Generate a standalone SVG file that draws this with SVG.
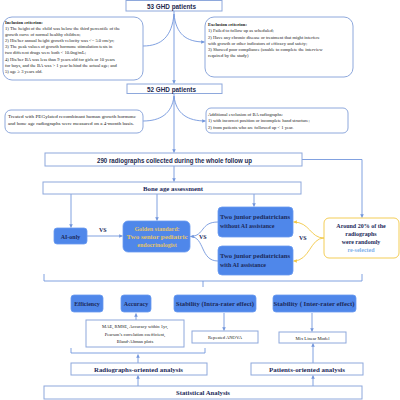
<svg xmlns="http://www.w3.org/2000/svg" width="400" height="400" viewBox="0 0 400 400">
<defs>
<style>
.box{fill:#fff;stroke:#8ea8dc;stroke-width:1}
.fbox{fill:#4f87ea;stroke:#6a9af0;stroke-width:0.8}
.ln{fill:none;stroke:#7396dc;stroke-width:0.9}
.yl{fill:none;stroke:#f2c744;stroke-width:0.9}
.sm{font-family:"Liberation Serif",serif;font-size:4.6px;fill:#222}
.smb{font-family:"Liberation Serif",serif;font-size:4.6px;fill:#222;font-weight:bold}
.hd{font-family:"Liberation Sans",sans-serif;font-weight:bold;fill:#1e2a50}
.nb{font-family:"Liberation Serif",serif;font-weight:bold;fill:#1c2a5a;font-size:6px}
.mid{text-anchor:middle}
</style>
<marker id="ab" viewBox="0 0 6 6" refX="5.5" refY="3" markerWidth="4" markerHeight="4" orient="auto"><path d="M0,0 L6,3 L0,6 z" fill="#7396dc"/></marker>
<marker id="ay" viewBox="0 0 6 6" refX="5.5" refY="3" markerWidth="4" markerHeight="4" orient="auto"><path d="M0,0 L6,3 L0,6 z" fill="#f2c744"/></marker>
</defs>
<rect width="400" height="400" fill="#fff"/>

<g id="connectors">
<path class="ln" d="M174,11 V83.5" marker-end="url(#ab)"/>
<path class="ln" d="M174,14 C172,36 162,46 143,46"/>
<path class="ln" d="M174,14 C176,34 186,42 204.5,42" marker-end="url(#ab)"/>
<path class="ln" d="M174,94 V152.5" marker-end="url(#ab)"/>
<path class="ln" d="M174,96 C172,114 160,121 143,121"/>
<path class="ln" d="M174,96 C176,114 188,121 205.5,121" marker-end="url(#ab)"/>
<path class="ln" d="M302,159.5 H362 V217.5" marker-end="url(#ab)"/>
<path class="ln" d="M174,166 V181.5" marker-end="url(#ab)"/>
<path class="ln" d="M71,194 V227.5" marker-end="url(#ab)"/>
<path class="ln" d="M157,194 V220.5" marker-end="url(#ab)"/>
<path class="ln" d="M254,194 V206.5" marker-end="url(#ab)"/>
<path class="ln" d="M87,236 H122.5" marker-end="url(#ab)"/>
<path class="ln" d="M218,222 C200,222 205,236 190.5,236.5" marker-end="url(#ab)"/>
<path class="ln" d="M218,261 C200,261 205,237 190.5,236.5"/>
<path class="yl" d="M324,238 C310,238 310,222 293.5,222" marker-end="url(#ay)"/>
<path class="yl" d="M324,238 C310,238 310,261 293.5,261" marker-end="url(#ay)"/>
<path class="ln" d="M44,274 V281 H362 V274 M203,281 V287"/>
<path class="ln" d="M136,320 V313.5" marker-end="url(#ab)"/>
<path class="ln" d="M224,313 V330.5" marker-end="url(#ab)"/>
<path class="ln" d="M312,313 V331.5" marker-end="url(#ab)"/>
<path class="ln" d="M71,348 V353 H205 V348"/>
<path class="ln" d="M138,363 V354.5" marker-end="url(#ab)"/>
<path class="ln" d="M138,386 V375.5" marker-end="url(#ab)"/>
<path class="ln" d="M313,386 V375.5" marker-end="url(#ab)"/>
<path class="ln" d="M313,363 V343.5" marker-end="url(#ab)"/>
</g>

<g id="n53">
<rect class="box" x="126" y="0.5" width="96" height="10.5"/>
<text class="hd" x="147" y="8.7" font-size="7.5" textLength="49" lengthAdjust="spacingAndGlyphs">53 GHD patients</text>
</g>

<g id="inclusion">
<rect class="box" x="3" y="17" width="140" height="63" rx="9"/>
<text class="smb" x="5" y="24">Inclusion criterion:</text>
<text class="sm" x="5" y="30">1) The height of the child was below the third percentile of the</text>
<text class="sm" x="5" y="35.7">growth curve of normal healthy children;</text>
<text class="sm" x="5" y="42">2) His/her annual height growth velocity was &lt;= 5.0 cm/yr;</text>
<text class="sm" x="5" y="48">3) The peak values of growth hormone stimulation tests in</text>
<text class="sm" x="5" y="54">   two different drugs were both &lt; 10.0ng/mL;</text>
<text class="sm" x="5" y="61">4) His/her BA was less than 9 years old for girls or 10 years</text>
<text class="sm" x="5" y="67">for boys, and the BA was &gt; 1 year behind the actual age;  and</text>
<text class="sm" x="5" y="73">5) age ≥ 3 years old.</text>
</g>

<g id="exclusion">
<rect class="box" x="205" y="17" width="148" height="60" rx="9"/>
<text class="smb" x="208" y="25.5">Exclusion criterion:</text>
<text class="sm" x="208" y="32">1) Failed to follow up as scheduled;</text>
<text class="sm" x="208" y="38.7">2) Have any chronic disease or treatment that might interfere</text>
<text class="sm" x="208" y="44.5">with growth or other indicators of efficacy and safety;</text>
<text class="sm" x="208" y="51">3)  Showed poor compliance (unable to complete the interview</text>
<text class="sm" x="208" y="57">required by the study)</text>
</g>

<g id="n52">
<rect class="box" x="127" y="84" width="95" height="9.5"/>
<text class="hd" x="147" y="91.7" font-size="7.5" textLength="49" lengthAdjust="spacingAndGlyphs">52 GHD patients</text>
</g>

<g id="peg">
<rect class="box" x="5" y="110" width="138" height="23" rx="6"/>
<text class="sm" x="8" y="118" font-size="5" textLength="128" lengthAdjust="spacingAndGlyphs">Treated with PEGylated recombinant human growth hormone</text>
<text class="sm" x="8" y="125" font-size="5" textLength="126" lengthAdjust="spacingAndGlyphs">and bone age radiographs were measured on a 4-month basis.</text>
</g>

<g id="additional">
<rect class="box" x="206" y="108" width="142" height="25" rx="5"/>
<text class="sm" x="208" y="115.5">Additional exclusion of BA radiographs:</text>
<text class="sm" x="208" y="122">1) with incorrect position or incomplete hand structure;</text>
<text class="sm" x="208" y="128.5">2) from patients who are followed up &lt; 1 year.</text>
</g>

<g id="n290">
<rect class="box" x="45" y="153" width="257" height="13"/>
<text class="hd" x="97" y="163" font-size="6.8" textLength="155" lengthAdjust="spacingAndGlyphs">290 radiographs collected during the whole follow up</text>
</g>

<g id="boneage">
<rect class="box" x="43" y="182" width="258" height="12"/>
<text class="nb" x="143" y="190.5" textLength="60" lengthAdjust="spacingAndGlyphs">Bone age assessment</text>
</g>

<g id="aionly">
<rect class="fbox" x="54" y="228" width="33" height="16" rx="3"/>
<text class="nb mid" x="70.5" y="238.5">AI-only</text>
<text class="nb" x="99" y="232" font-size="5.5">VS</text>
</g>

<g id="golden">
<rect class="fbox" x="123" y="221" width="67" height="31" rx="5"/>
<text class="nb mid" x="157" y="231" fill="#e2c46a" style="fill:#e2c46a">Golden standard:</text>
<text class="nb mid" x="157" y="239" style="fill:#e2c46a" textLength="61" lengthAdjust="spacingAndGlyphs">Two senior  pediatric</text>
<text class="nb mid" x="157" y="247" style="fill:#e2c46a">endocrinologist</text>
</g>

<g id="juniorwo">
<rect class="fbox" x="218" y="207" width="75" height="30" rx="4"/>
<text class="nb" x="220" y="219" textLength="70" lengthAdjust="spacingAndGlyphs">Two junior pediatricians</text>
<text class="nb" x="220" y="228">without AI assistance</text>
</g>

<g id="juniorw">
<rect class="fbox" x="218" y="246" width="75" height="29" rx="4"/>
<text class="nb" x="220" y="258" textLength="70" lengthAdjust="spacingAndGlyphs">Two junior pediatricians</text>
<text class="nb" x="220" y="267">with AI assistance</text>
<text class="nb" x="199" y="239" font-size="5.5">VS</text>
<text class="nb" x="299" y="240" font-size="5.5">VS</text>
</g>

<g id="around">
<rect x="324" y="218" width="75" height="40" rx="5" fill="#fff" stroke="#f2c744" stroke-width="0.9"/>
<text class="nb mid" x="361" y="228" font-size="5.8">Around 20% of the</text>
<text class="nb mid" x="361" y="236" font-size="5.8">radiographs</text>
<text class="nb mid" x="361" y="244" font-size="5.8">were randomly</text>
<text class="nb mid" x="361" y="252" font-size="5.8" style="fill:#7fb0ea">re-selected</text>
</g>

<g id="efficiency">
<rect class="fbox" x="71" y="295" width="32" height="17" rx="3"/>
<text class="nb mid" x="87" y="305.5" font-size="5.8">Efficiency</text>
</g>
<g id="accuracy">
<rect class="fbox" x="121" y="295" width="30" height="17" rx="3"/>
<text class="nb mid" x="136" y="305.5" font-size="5.8">Accuracy</text>
</g>
<g id="intra">
<rect class="fbox" x="174" y="295" width="82" height="17" rx="3"/>
<text class="nb mid" x="215" y="305.5" font-size="5.8" textLength="78" lengthAdjust="spacingAndGlyphs">Stability (Intra-rater effect)</text>
</g>
<g id="inter">
<rect class="fbox" x="273" y="295" width="83" height="17" rx="3"/>
<text class="nb mid" x="314" y="305.5" font-size="5.8" textLength="81" lengthAdjust="spacingAndGlyphs">Stability ( Inter-rater effect)</text>
</g>

<g id="mae">
<rect class="box" x="86" y="320" width="98" height="27"/>
<text class="sm mid" x="135" y="328" font-size="5.2">MAE, RMSE, Accuracy within 1yr,</text>
<text class="sm mid" x="135" y="335.5" font-size="5.2">Pearson’s correlation coefficient,</text>
<text class="sm mid" x="135" y="343" font-size="5.2">Bland-Altman plots</text>
</g>
<g id="anova">
<rect class="box" x="192" y="331" width="66" height="12"/>
<text class="sm mid" x="225" y="339" font-size="5">Repeated ANOVA</text>
</g>
<g id="mix">
<rect class="box" x="279" y="332" width="67" height="11"/>
<text class="sm mid" x="312.5" y="339.5" font-size="5">Mix Linear Model</text>
</g>

<g id="radio">
<rect class="box" x="71" y="363" width="136" height="12"/>
<text class="nb" x="94" y="371.5" textLength="89" lengthAdjust="spacingAndGlyphs">Radiographs-oriented analysis</text>
</g>
<g id="patients">
<rect class="box" x="251" y="363" width="112" height="12"/>
<text class="nb" x="269" y="371.5" textLength="76" lengthAdjust="spacingAndGlyphs">Patients-oriented analysis</text>
</g>
<g id="stat">
<rect class="box" x="44" y="386" width="318" height="13"/>
<text class="nb" x="176" y="395" textLength="54" lengthAdjust="spacingAndGlyphs">Statistical Analysis</text>
</g>
</svg>
